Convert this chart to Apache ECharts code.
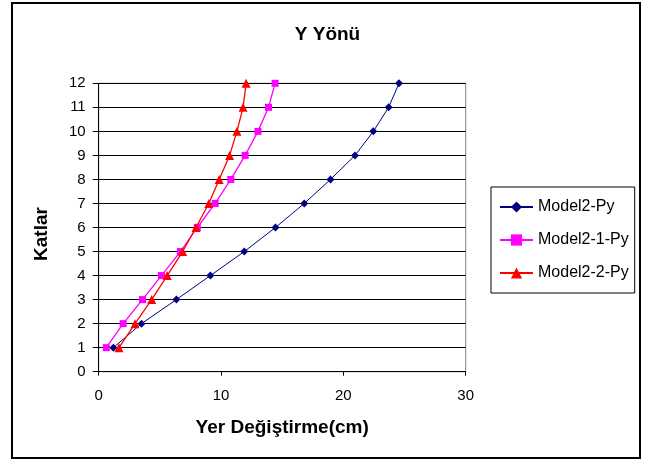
<!DOCTYPE html>
<html>
<head>
<meta charset="utf-8">
<title>Y Yönü</title>
<script src="https://cdn.jsdelivr.net/npm/echarts@6/dist/echarts.min.js"></script>
<style>
  html, body { margin: 0; padding: 0; background: #fff; }
  #chart { width: 655px; height: 465px; }
</style>
</head>
<body>
<div id="chart"></div>
<script>
// Storey numbers (y) and lateral displacement per storey in cm (x)
const katlar = [1, 2, 3, 4, 5, 6, 7, 8, 9, 10, 11, 12];
const model2Py = [1.2, 3.5, 6.35, 9.13, 11.9, 14.45, 16.8, 18.95, 20.95, 22.45, 23.7, 24.55];
const model21Py = [0.62, 2.0, 3.58, 5.13, 6.68, 8.06, 9.52, 10.8, 11.97, 13.02, 13.88, 14.42];
const model22Py = [1.66, 2.97, 4.33, 5.6, 6.86, 7.96, 9.0, 9.85, 10.7, 11.3, 11.8, 12.05];
const seriesNames = ['Model2-Py', 'Model2-1-Py', 'Model2-2-Py'];
const xTicks = [0, 10, 20, 30];

const FONT = '"Liberation Sans", Arial, sans-serif';

function pairs(values) {
  return values.map((v, i) => [v, katlar[i]]);
}

const chart = echarts.init(document.getElementById('chart'), null, { renderer: 'canvas' });

chart.setOption({
  animation: false,
  backgroundColor: '#fff',
  title: {
    text: 'Y Yönü',
    left: 'center',
    top: 20,
    textStyle: { fontFamily: FONT, fontSize: 19, fontWeight: 'bold', color: '#000' }
  },
  graphic: [{
    type: 'rect',
    shape: { x: 12, y: 3, width: 628, height: 455 },
    style: { fill: null, stroke: '#000', lineWidth: 2 },
    silent: true
  }],
  legend: {
    orient: 'vertical',
    left: 491,
    top: 187,
    padding: [12, 6, 12, 8],
    itemGap: 17,
    itemWidth: 33,
    itemHeight: 14,
    borderColor: '#000',
    borderWidth: 1,
    backgroundColor: '#fff',
    textStyle: { fontFamily: FONT, fontSize: 16, color: '#000', padding: [0, 0, 0, 0] },
    data: seriesNames
  },
  grid: {
    left: 98.7,
    right: 189.3,
    top: 83.3,
    bottom: 93.3,
    show: true,
    borderColor: '#808080',
    borderWidth: 1,
    backgroundColor: '#fff'
  },
  xAxis: {
    type: 'value',
    min: xTicks[0],
    max: xTicks[xTicks.length - 1],
    interval: 10,
    name: 'Yer Değiştirme(cm)',
    nameLocation: 'middle',
    nameGap: 47,
    nameTextStyle: { fontFamily: FONT, fontSize: 19, fontWeight: 'bold', color: '#000' },
    axisLine: { show: true, onZero: false, lineStyle: { color: '#000', width: 1 } },
    axisTick: { show: true, inside: false, length: 4, lineStyle: { color: '#000' } },
    axisLabel: { fontFamily: FONT, fontSize: 15, color: '#000', margin: 17 },
    splitLine: { show: false }
  },
  yAxis: {
    type: 'value',
    min: 0,
    max: 12,
    interval: 1,
    name: 'Katlar',
    nameLocation: 'middle',
    nameGap: 47,
    nameRotate: 90,
    nameTextStyle: { fontFamily: FONT, fontSize: 19, fontWeight: 'bold', color: '#000', padding: [0, 13, 0, 0] },
    axisLine: { show: true, onZero: false, lineStyle: { color: '#000', width: 1 } },
    axisTick: { show: true, inside: false, length: 6, lineStyle: { color: '#000' } },
    axisLabel: { fontFamily: FONT, fontSize: 15, color: '#000', margin: 13 },
    splitLine: { show: true, lineStyle: { color: '#000', width: 1 } }
  },
  series: [
    {
      name: seriesNames[0],
      type: 'line',
      data: pairs(model2Py),
      symbol: 'diamond',
      symbolSize: 8,
      color: '#000080',
      lineStyle: { color: '#000080', width: 1 },
      itemStyle: { color: '#000080' }
    },
    {
      name: seriesNames[1],
      type: 'line',
      data: pairs(model21Py),
      symbol: 'rect',
      symbolSize: 7,
      color: '#FF00FF',
      lineStyle: { color: '#FF00FF', width: 1.3 },
      itemStyle: { color: '#FF00FF' }
    },
    {
      name: seriesNames[2],
      type: 'line',
      data: pairs(model22Py),
      symbol: 'triangle',
      symbolSize: 9,
      color: '#FF0000',
      lineStyle: { color: '#FF0000', width: 1.3 },
      itemStyle: { color: '#FF0000' }
    }
  ]
});
</script>
</body>
</html>
